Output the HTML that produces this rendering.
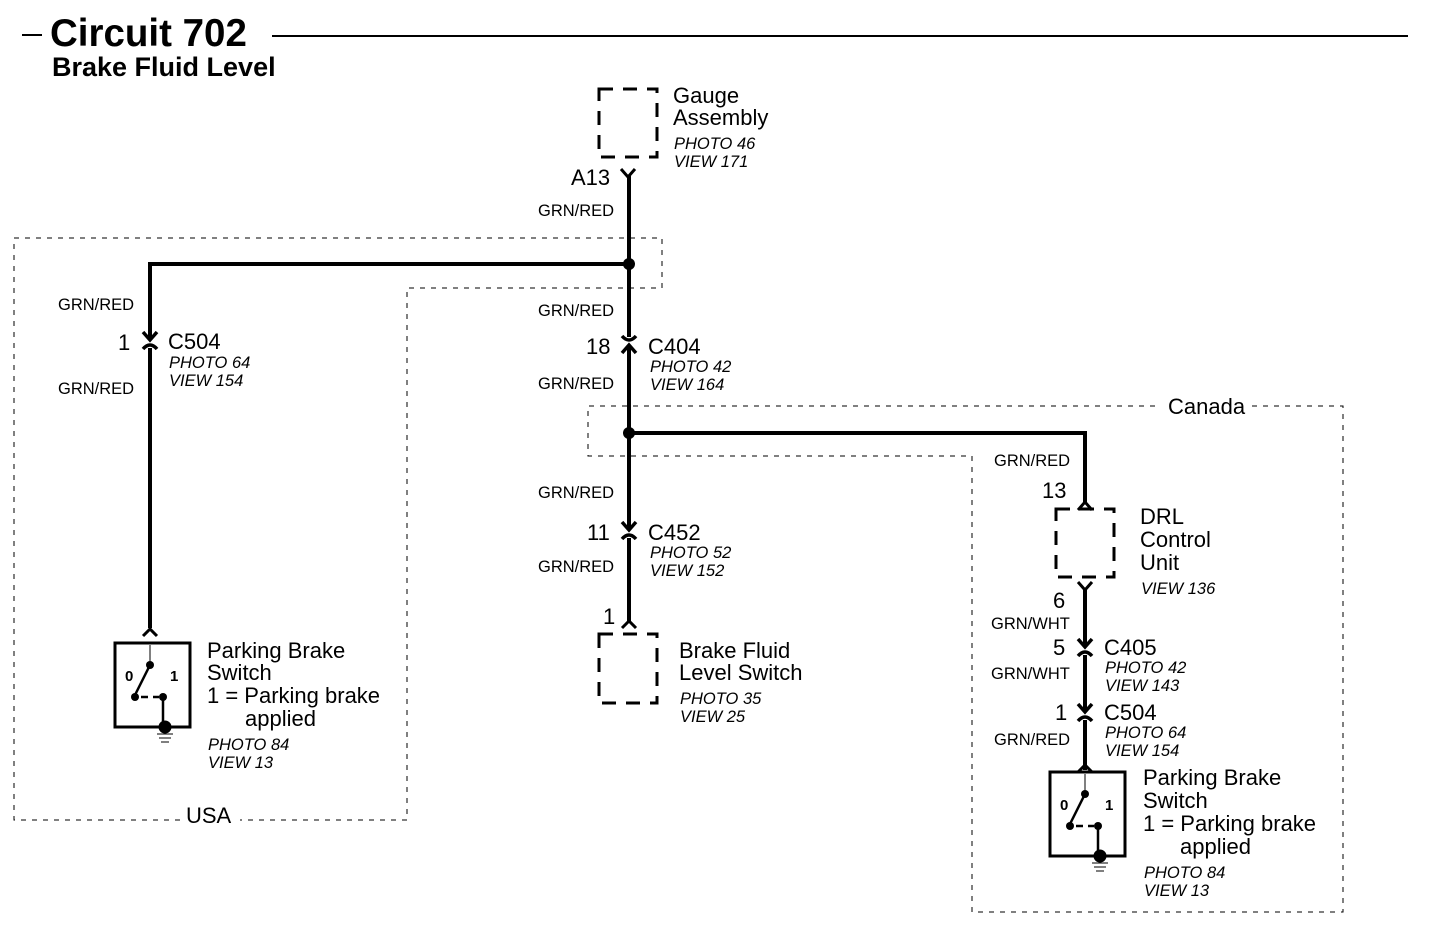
<!DOCTYPE html>
<html><head><meta charset="utf-8"><style>
html,body{margin:0;padding:0;background:#fff}
svg{display:block}
text{font-family:"Liberation Sans",Arial,sans-serif;fill:#000}
.l{font-size:22px}
.s{font-size:16.5px}
.i{font-size:16.5px;font-style:italic}
</style></head><body>
<svg width="1440" height="940" viewBox="0 0 1440 940" xmlns="http://www.w3.org/2000/svg">
<defs>
<g id="cdn"><rect x="-9" y="-8" width="18" height="16" fill="#fff"/><path d="M-7,-8 L0,0 L7,-8" fill="none" stroke="#000" stroke-width="3.5"/><path d="M-7,9 Q0,1 7,9" fill="none" stroke="#000" stroke-width="3.5"/><line x1="0" y1="-8" x2="0" y2="0" stroke="#000" stroke-width="4"/></g>
<g id="cup"><rect x="-9" y="-8" width="18" height="16" fill="#fff"/><path d="M-7,8 L0,0 L7,8" fill="none" stroke="#000" stroke-width="3.5"/><path d="M-7,-9 Q0,-1 7,-9" fill="none" stroke="#000" stroke-width="3.5"/><line x1="0" y1="8" x2="0" y2="0" stroke="#000" stroke-width="4"/></g>
<g id="sw">
<rect x="0" y="0" width="75" height="84" fill="none" stroke="#000" stroke-width="3"/>
<line x1="35" y1="2" x2="35" y2="20" stroke="#000" stroke-width="1"/>
<circle cx="35" cy="22" r="4"/>
<line x1="35" y1="22" x2="20" y2="52" stroke="#000" stroke-width="2.5"/>
<circle cx="20" cy="54" r="4"/>
<line x1="26" y1="54" x2="44" y2="54" stroke="#000" stroke-width="2.5" stroke-dasharray="7,5"/>
<circle cx="48" cy="54" r="4"/>
<line x1="48" y1="54" x2="48" y2="84" stroke="#000" stroke-width="2.5"/>
<circle cx="50" cy="84" r="6.5"/>
<line x1="42" y1="91" x2="58" y2="91" stroke="#000" stroke-width="1"/>
<line x1="44" y1="95" x2="56" y2="95" stroke="#000" stroke-width="1"/>
<line x1="46" y1="99" x2="54" y2="99" stroke="#000" stroke-width="1"/>
<text x="10" y="38" style="font-size:15px;font-weight:bold">0</text>
<text x="55" y="38" style="font-size:15px;font-weight:bold">1</text>
</g>
</defs>

<line x1="22" y1="35" x2="42" y2="35" stroke="#000" stroke-width="2"/>
<text x="50" y="46" style="font-size:38.5px;font-weight:bold">Circuit 702</text>
<line x1="272" y1="36" x2="1408" y2="36" stroke="#000" stroke-width="2"/>
<text x="52" y="76" style="font-size:27px;font-weight:bold">Brake Fluid Level</text>

<g fill="none" stroke="#000" stroke-width="1.3" stroke-dasharray="5,6" shape-rendering="crispEdges">
<path d="M14,238 L662,238 L662,288 L407,288 L407,820 L240,820"/>
<path d="M180,820 L14,820 L14,238"/>
<path d="M1252,406 L1343,406 L1343,912 L972,912 L972,456 L588,456 L588,406 L1160,406"/>
</g>
<text x="186" y="823" class="l">USA</text>
<text x="1168" y="414" class="l">Canada</text>

<rect x="599" y="89" width="58" height="68" fill="none" stroke="#000" stroke-width="3" stroke-dasharray="14,10"/>
<text x="673" y="103" class="l">Gauge</text>
<text x="673" y="125" class="l">Assembly</text>
<text x="674" y="149" class="i">PHOTO 46</text>
<text x="674" y="167" class="i">VIEW 171</text>
<path d="M621,169 L628,177 L635,169" fill="none" stroke="#000" stroke-width="3"/>
<text x="571" y="185" class="l">A13</text>
<text x="538" y="216" class="s">GRN/RED</text>

<g stroke="#000" stroke-width="4" fill="none">
<line x1="629" y1="176" x2="629" y2="622"/>
<polyline points="629,264 150,264 150,628"/>
<polyline points="629,433 1085,433 1085,503"/>
<line x1="1085" y1="588" x2="1085" y2="770"/>
</g>
<circle cx="629" cy="264" r="6"/>
<circle cx="629" cy="433" r="6"/>

<text x="58" y="310" class="s">GRN/RED</text>
<use href="#cdn" x="150" y="340"/>
<text x="118" y="350" class="l">1</text>
<text x="168" y="349" class="l">C504</text>
<text x="169" y="368" class="i">PHOTO 64</text>
<text x="169" y="386" class="i">VIEW 154</text>
<text x="58" y="394" class="s">GRN/RED</text>
<path d="M143,636 L150,629 L157,636" fill="none" stroke="#000" stroke-width="3"/>
<use href="#sw" x="115" y="643"/>
<text x="207" y="658" class="l">Parking Brake</text>
<text x="207" y="680" class="l">Switch</text>
<text x="207" y="703" class="l">1 = Parking brake</text>
<text x="245" y="726" class="l">applied</text>
<text x="208" y="750" class="i">PHOTO 84</text>
<text x="208" y="768" class="i">VIEW 13</text>

<text x="538" y="316" class="s">GRN/RED</text>
<use href="#cup" x="629" y="345"/>
<text x="586" y="354" class="l">18</text>
<text x="648" y="354" class="l">C404</text>
<text x="650" y="372" class="i">PHOTO 42</text>
<text x="650" y="390" class="i">VIEW 164</text>
<text x="538" y="389" class="s">GRN/RED</text>

<text x="538" y="498" class="s">GRN/RED</text>
<use href="#cdn" x="629" y="530"/>
<text x="587" y="540" class="l">11</text>
<text x="648" y="540" class="l">C452</text>
<text x="650" y="558" class="i">PHOTO 52</text>
<text x="650" y="576" class="i">VIEW 152</text>
<text x="538" y="572" class="s">GRN/RED</text>
<text x="603" y="624" class="l">1</text>
<path d="M622,628 L629,621 L636,628" fill="none" stroke="#000" stroke-width="3"/>
<rect x="599" y="634" width="58" height="69" fill="none" stroke="#000" stroke-width="3" stroke-dasharray="14,10"/>
<text x="679" y="658" class="l">Brake Fluid</text>
<text x="679" y="680" class="l">Level Switch</text>
<text x="680" y="704" class="i">PHOTO 35</text>
<text x="680" y="722" class="i">VIEW 25</text>

<text x="994" y="466" class="s">GRN/RED</text>
<text x="1042" y="498" class="l">13</text>
<path d="M1078,510 L1085,502 L1092,510" fill="none" stroke="#000" stroke-width="3"/>
<rect x="1056" y="509" width="58" height="68" fill="none" stroke="#000" stroke-width="3" stroke-dasharray="14,10"/>
<text x="1140" y="524" class="l">DRL</text>
<text x="1140" y="547" class="l">Control</text>
<text x="1140" y="570" class="l">Unit</text>
<text x="1141" y="594" class="i">VIEW 136</text>
<path d="M1078,582 L1085,590 L1092,582" fill="none" stroke="#000" stroke-width="3"/>
<text x="1053" y="608" class="l">6</text>
<text x="991" y="629" class="s">GRN/WHT</text>
<use href="#cdn" x="1085" y="647"/>
<text x="1053" y="655" class="l">5</text>
<text x="1104" y="655" class="l">C405</text>
<text x="1105" y="673" class="i">PHOTO 42</text>
<text x="1105" y="691" class="i">VIEW 143</text>
<text x="991" y="679" class="s">GRN/WHT</text>
<use href="#cdn" x="1085" y="712"/>
<text x="1055" y="720" class="l">1</text>
<text x="1104" y="720" class="l">C504</text>
<text x="1105" y="738" class="i">PHOTO 64</text>
<text x="1105" y="756" class="i">VIEW 154</text>
<text x="994" y="745" class="s">GRN/RED</text>
<path d="M1078,772 L1085,765 L1092,772" fill="none" stroke="#000" stroke-width="3"/>
<use href="#sw" x="1050" y="772"/>
<text x="1143" y="785" class="l">Parking Brake</text>
<text x="1143" y="808" class="l">Switch</text>
<text x="1143" y="831" class="l">1 = Parking brake</text>
<text x="1180" y="854" class="l">applied</text>
<text x="1144" y="878" class="i">PHOTO 84</text>
<text x="1144" y="896" class="i">VIEW 13</text>
</svg>
</body></html>
